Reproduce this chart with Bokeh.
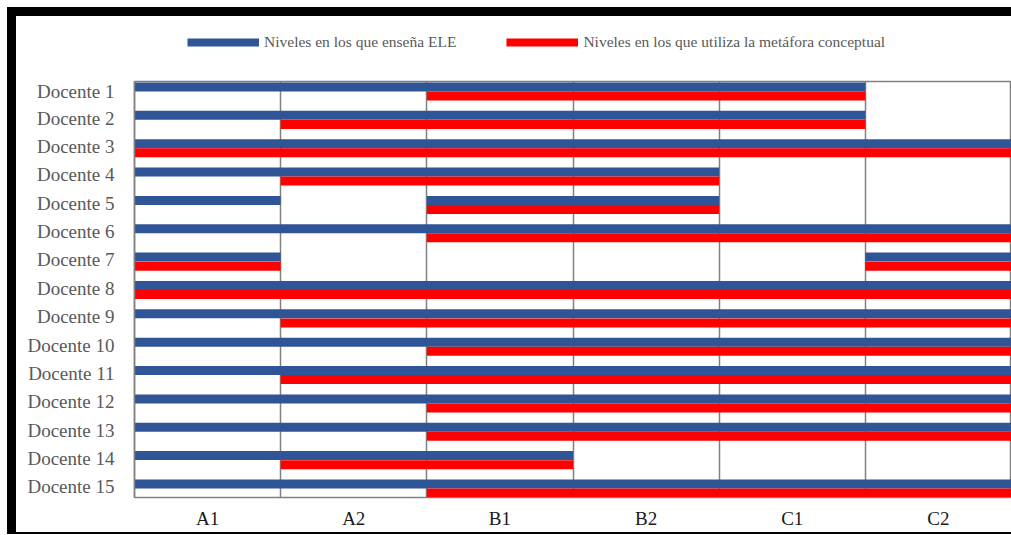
from bokeh.plotting import figure
from bokeh.layouts import column
from bokeh.models import Range1d, FixedTicker, Legend, LegendItem, ColumnDataSource
from bokeh.embed import file_html
from bokeh.resources import INLINE

niveles = ["A1", "A2", "B1", "B2", "C1", "C2"]
docentes = ["Docente %d" % i for i in range(1, 16)]

# Niveles en los que enseña ELE (tramos inicio-fin, inclusive)
ensena = [
    [("A1", "C1")],
    [("A1", "C1")],
    [("A1", "C2")],
    [("A1", "B2")],
    [("A1", "A1"), ("B1", "B2")],
    [("A1", "C2")],
    [("A1", "A1"), ("C2", "C2")],
    [("A1", "C2")],
    [("A1", "C2")],
    [("A1", "C2")],
    [("A1", "C2")],
    [("A1", "C2")],
    [("A1", "C2")],
    [("A1", "B1")],
    [("A1", "C2")],
]

# Niveles en los que utiliza la metáfora conceptual
metafora = [
    [("B1", "C1")],
    [("A2", "C1")],
    [("A1", "C2")],
    [("A2", "B2")],
    [("B1", "B2")],
    [("B1", "C2")],
    [("A1", "A1"), ("C2", "C2")],
    [("A1", "C2")],
    [("A2", "C2")],
    [("B1", "C2")],
    [("A2", "C2")],
    [("B1", "C2")],
    [("B1", "C2")],
    [("A2", "B1")],
    [("B1", "C2")],
]

label_ensena = "Niveles en los que enseña ELE"
label_metafora = "Niveles en los que utiliza la metáfora conceptual"

BLUE = "#2F5597"
RED = "#FF0000"
FONT = "Liberation Serif"


def segments(tramos, offset):
    left, right, y = [], [], []
    for i, row in enumerate(tramos):
        for a, b in row:
            left.append(niveles.index(a))
            right.append(niveles.index(b) + 1)
            y.append(i + 1 + offset)
    return ColumnDataSource(dict(left=left, right=right, y=y))


# ---- legend strip ----
lg = figure(
    width=995, height=64, output_backend="svg", toolbar_location=None,
    x_range=Range1d(0, 1), y_range=Range1d(0, 1),
    x_axis_type=None, y_axis_type=None,
    min_border_left=0, min_border_right=0, min_border_top=0, min_border_bottom=0,
)
lg.outline_line_color = None
lg.grid.grid_line_color = None
lg.background_fill_color = "white"
lg.border_fill_color = "white"
# proxy renderers for the legend, kept outside the visible range
lb = lg.line(x=[-3, -2], y=[-3, -3], line_color=BLUE, line_width=8)
lr = lg.line(x=[-3, -2], y=[-3, -3], line_color=RED, line_width=8)
legend = Legend(
    items=[LegendItem(label=label_ensena, renderers=[lb]),
           LegendItem(label=label_metafora, renderers=[lr])],
    orientation="horizontal", location=(53, 29),
    glyph_width=72, glyph_height=16, label_height=16, label_standoff=5, spacing=50,
    padding=0, margin=0, border_line_color=None, background_fill_alpha=0,
    label_text_font=FONT, label_text_font_size="15.5px", label_text_color="#595959",
)
lg.add_layout(legend, "center")

# ---- main chart ----
p = figure(
    width=995, height=452,
    output_backend="svg", toolbar_location=None,
    x_range=Range1d(0, 6), y_range=Range1d(15.317, 0.647),
    min_border_left=118, min_border_top=1, min_border_bottom=35, min_border_right=0,
)
p.background_fill_color = "white"
p.border_fill_color = "white"
p.outline_line_color = "#808080"
p.outline_line_width = 1.5

bh = 0.317
p.hbar(y="y", left="left", right="right", height=bh, source=segments(ensena, -0.16),
       fill_color=BLUE, line_color=None)
p.hbar(y="y", left="left", right="right", height=bh, source=segments(metafora, 0.16),
       fill_color=RED, line_color=None)

p.xaxis.ticker = FixedTicker(ticks=[i + 0.5 for i in range(6)])
p.xaxis.major_label_overrides = {i + 0.5: n for i, n in enumerate(niveles)}
p.xaxis.major_tick_line_color = None
p.xaxis.minor_tick_line_color = None
p.xaxis.axis_line_color = "#808080"
p.xaxis.major_label_text_font = FONT
p.xaxis.major_label_text_font_size = "19px"
p.xaxis.major_label_text_color = "#1a1a1a"
p.xaxis.major_label_standoff = 4

yticks = [round(i + 1 - 0.06, 2) for i in range(15)]
p.yaxis.ticker = FixedTicker(ticks=yticks)
p.yaxis.major_label_overrides = {t: d for t, d in zip(yticks, docentes)}
p.yaxis.major_tick_line_color = None
p.yaxis.minor_tick_line_color = None
p.yaxis.axis_line_color = "#808080"
p.yaxis.axis_line_width = 1.5
p.yaxis.major_label_text_font = FONT
p.yaxis.major_label_text_font_size = "19px"
p.yaxis.major_label_text_color = "#595959"
p.yaxis.major_label_standoff = 14

p.xgrid.ticker = FixedTicker(ticks=[1, 2, 3, 4, 5])
p.xgrid.grid_line_color = "#808080"
p.xgrid.grid_line_width = 1.5
p.ygrid.grid_line_color = None

layout = column(lg, p, width=1004, height=527, spacing=0)
layout.styles = {
    "border-top": "9px solid black",
    "border-left": "9px solid black",
    "border-bottom": "2px solid black",
    "margin-top": "7px",
    "margin-left": "7px",
    "background-color": "white",
}

open("out.html", "w").write(file_html(layout, INLINE))
